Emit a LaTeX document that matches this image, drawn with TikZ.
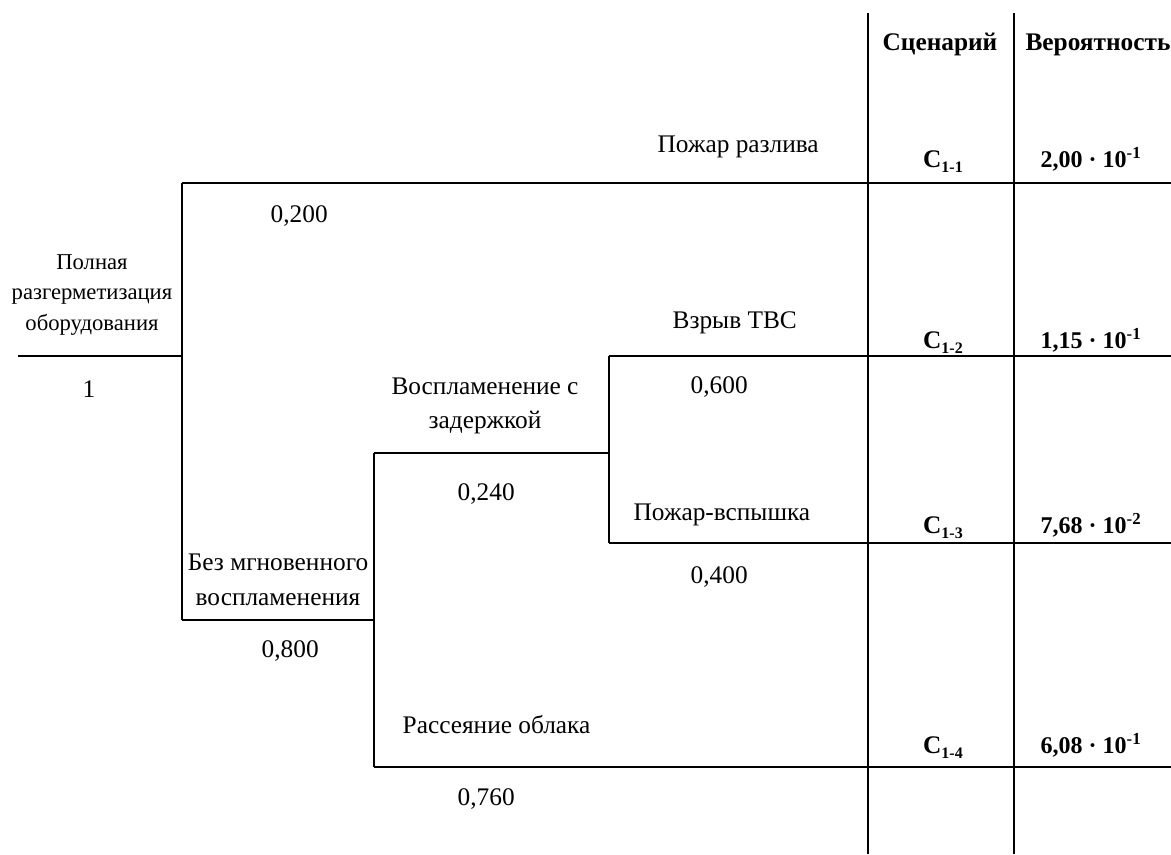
\documentclass[tikz,border=0pt]{standalone}
\usepackage{fontspec}
\setmainfont{Liberation Serif}
\newcommand{\scn}[1]{C\raisebox{-0.45ex}{\fontsize{12}{12}\selectfont #1}}
\begin{document}
\begin{tikzpicture}[x=0.75pt,y=-0.75pt,line width=1pt,
	lbl/.style={font=\fontsize{19}{26}\selectfont, align=center, inner sep=0pt},
	one/.style={lbl, anchor=base west},
	hdr/.style={font=\fontsize{19}{26}\selectfont\bfseries, inner sep=0pt, anchor=base},
	res/.style={font=\fontsize{19}{20}\selectfont\bfseries, inner sep=0pt, anchor=base},
	val/.style={font=\fontsize{18}{20}\selectfont\bfseries, inner sep=0pt, anchor=base east}]
	\useasboundingbox (0,0) rectangle (1171,854);

	% tree points
	\coordinate (s0) at (18,356);
	\coordinate (b1) at (182,356);
	\coordinate (b1u) at (182,183);
	\coordinate (b1d) at (182,620);
	\coordinate (e1) at (1171,183);
	\coordinate (b2d) at (374,620);
	\coordinate (b2u) at (374,453);
	\coordinate (b2l) at (374,767);
	\coordinate (e4) at (1171,767);
	\coordinate (b3) at (609,453);
	\coordinate (b3u) at (609,356);
	\coordinate (b3d) at (609,543);
	\coordinate (e2) at (1171,356);
	\coordinate (e3) at (1171,543);

	% columns
	\coordinate (k1t) at (868,13);
	\coordinate (k1b) at (868,854);
	\coordinate (k2t) at (1014,13);
	\coordinate (k2b) at (1014,854);

	\draw (s0) -- (b1);
	\draw (b1u) -- (b1d);
	\draw (b1u) -- (e1);
	\draw (b1d) -- (b2d);
	\draw (b2u) -- (b2l);
	\draw (b2l) -- (e4);
	\draw (b2u) -- (b3);
	\draw (b3u) -- (b3d);
	\draw (b3u) -- (e2);
	\draw (b3d) -- (e3);
	\draw (k1t) -- (k1b);
	\draw (k2t) -- (k2b);

	% events
	\node[lbl, font=\fontsize{17}{23}\selectfont] (start) at (92,295) {Полная\\разгерметизация\\оборудования};
	\node[lbl, anchor=base] (p0) at (89,397) {1};
	\node[one] (pr1) at (270,222) {0,200};
	\node[one] (ev1) at (657,152) {Пожар разлива};
	\node[lbl] (nofire) at (278,580) {Без мгновенного\\воспламенения};
	\node[one] (pr2) at (261,657) {0,800};
	\node[lbl] (delay) at (485,406) {Воспламенение с\\задержкой};
	\node[one] (pr3) at (457,500) {0,240};
	\node[one] (ev2) at (672,328) {Взрыв ТВС};
	\node[one] (pr4) at (690,393) {0,600};
	\node[one] (ev3) at (633,520) {Пожар-вспышка};
	\node[one] (pr5) at (690,583) {0,400};
	\node[one] (ev4) at (402,733) {Рассеяние облака};
	\node[one] (pr6) at (457,805) {0,760};

	% table
	\node[hdr] (hsc) at (940,50) {Сценарий};
	\node[hdr] (hpr) at (1098,50) {Вероятность};
	\node[res] (c1) at (943,167) {\scn{1-1}};
	\node[val] (q1) at (1142,167) {2,00 · 10\textsuperscript{-1}};
	\node[res] (c2) at (943,348) {\scn{1-2}};
	\node[val] (q2) at (1142,348) {1,15 · 10\textsuperscript{-1}};
	\node[res] (c3) at (943,533) {\scn{1-3}};
	\node[val] (q3) at (1142,533) {7,68 · 10\textsuperscript{-2}};
	\node[res] (c4) at (943,753) {\scn{1-4}};
	\node[val] (q4) at (1142,753) {6,08 · 10\textsuperscript{-1}};
\end{tikzpicture}
\end{document}
